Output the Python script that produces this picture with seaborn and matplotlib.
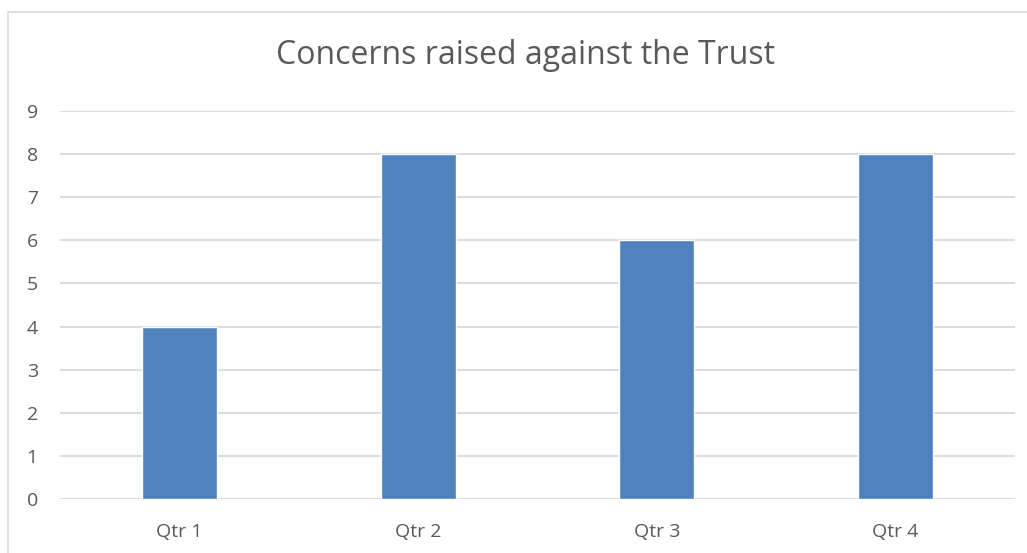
import matplotlib
matplotlib.use("Agg")
import matplotlib.pyplot as plt
import matplotlib.patches as mpatches
import seaborn as sns
import pandas as pd

quarters = ["Qtr 1", "Qtr 2", "Qtr 3", "Qtr 4"]
concerns = [4, 8, 6, 8]
y_ticks = [0, 1, 2, 3, 4, 5, 6, 7, 8, 9]
title = "Concerns raised against the Trust"

sns.set_theme(style="white")
plt.rcParams["font.family"] = ["Open Sans", "DejaVu Sans"]

text_color = "#595959"
grid_color = "#D9D9D9"
bar_color = "#4F81BD"

W, H = 1027, 553
fig = plt.figure(figsize=(W / 100, H / 100), dpi=100)
fig.patch.set_facecolor("white")

# chart frame
fig.patches.append(mpatches.Rectangle((8 / W, -0.1), 1.2, 1 - 12 / H + 0.1,
                                      transform=fig.transFigure, fill=False,
                                      edgecolor="#D9D9D9", linewidth=1.2))

left, right = 60 / W, 1015 / W
bottom, top = 1 - 499 / H, 1 - 111 / H
ax = fig.add_axes([left, bottom, right - left, top - bottom])

df = pd.DataFrame({"quarter": quarters, "concerns": concerns})
sns.barplot(data=df, x="quarter", y="concerns", color=bar_color,
            saturation=1, width=0.314, ax=ax, zorder=3)

ax.set_ylim(0, 9)
ax.set_yticks(y_ticks)
ax.set_xlim(-0.5, len(quarters) - 0.5)
for v in y_ticks:
    ax.axhline(v, color=grid_color, linewidth=1.3, zorder=1)
for s in ax.spines.values():
    s.set_visible(False)
ax.set_xlabel("")
ax.set_ylabel("")
ax.tick_params(axis="both", length=0, labelsize=14, colors=text_color)
ax.tick_params(axis="y", pad=16)
ax.tick_params(axis="x", pad=17.5)
ax.set_facecolor("none")

fig.text(526 / W, 1 - 56 / H, title, ha="center", va="center",
         fontsize=23, color=text_color)

fig.savefig("out.png", dpi=100, facecolor="white")
